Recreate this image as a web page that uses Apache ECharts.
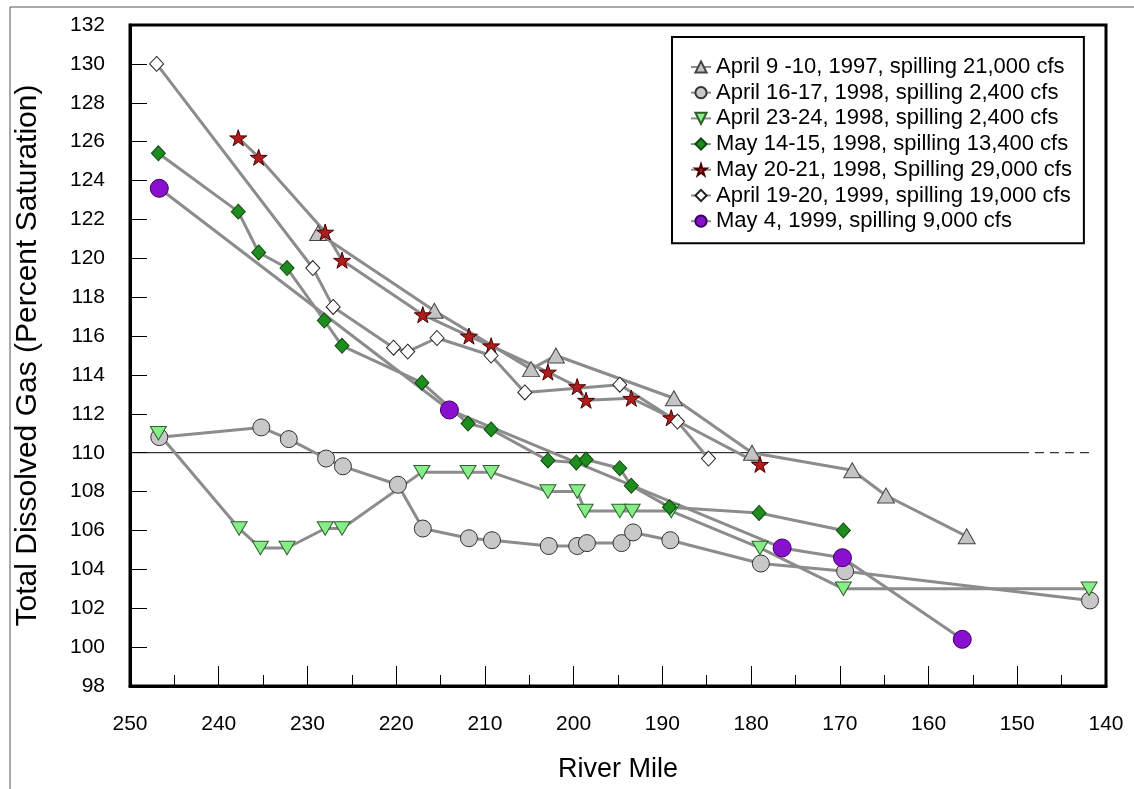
<!DOCTYPE html>
<html lang="en">
<head>
<meta charset="UTF-8">
<title>Total Dissolved Gas vs River Mile</title>
<script src="https://cdn.jsdelivr.net/npm/echarts@6/dist/echarts.min.js"></script>
<style>
  html, body { margin: 0; padding: 0; background: #fff; }
  #main { width: 1134px; height: 789px; }
</style>
</head>
<body>
<div id="main"></div>
<script>
// series names (legend)
var names = [
  'April 9 -10, 1997, spilling 21,000 cfs',
  'April 16-17, 1998, spilling 2,400 cfs',
  'April 23-24, 1998, spilling 2,400 cfs',
  'May 14-15, 1998, spilling 13,400 cfs',
  'May 20-21, 1998, Spilling 29,000 cfs',
  'April 19-20, 1999, spilling 19,000 cfs',
  'May 4, 1999, spilling 9,000 cfs'
];

// April 9-10, 1997
var apr97Mile = [228.8, 215.7, 204.8, 202.0, 188.7, 179.9, 168.6, 164.8, 155.7];
var apr97Gas  = [121.3, 117.3, 114.3, 115.0, 112.8, 110.0, 109.1, 107.8, 105.7];

// April 16-17, 1998
var apr16Mile = [246.7, 235.2, 232.1, 227.9, 226.0, 219.8, 217.0, 211.8, 209.2, 202.8, 199.6, 198.5, 194.6, 193.3, 189.1, 178.9, 169.4, 141.8];
var apr16Gas  = [110.8, 111.3, 110.7, 109.7, 109.3, 108.35, 106.1, 105.6, 105.5, 105.2, 105.2, 105.35, 105.35, 105.9, 105.5, 104.3, 103.9, 102.4];

// April 23-24, 1998
var apr23Mile = [246.8, 237.7, 235.3, 232.3, 228.0, 226.1, 217.1, 211.9, 209.3, 202.9, 199.6, 198.7, 194.8, 193.4, 189.0, 179.0, 169.6, 141.9];
var apr23Gas  = [111.0, 106.1, 105.1, 105.1, 106.1, 106.1, 109.0, 109.0, 109.0, 108.0, 108.0, 107.0, 107.0, 107.0, 107.0, 105.1, 103.0, 103.0];

// May 14-15, 1998
var may14Mile = [246.8, 237.8, 235.5, 232.3, 228.1, 226.1, 217.1, 211.9, 209.3, 202.9, 199.7, 198.6, 194.8, 193.5, 189.2, 179.1, 169.6];
var may14Gas  = [125.4, 122.4, 120.3, 119.5, 116.8, 115.5, 113.6, 111.5, 111.2, 109.6, 109.5, 109.65, 109.2, 108.3, 107.2, 106.9, 106.0];

// May 20-21, 1998
var may20Mile = [237.8, 235.5, 228.0, 226.1, 217.0, 211.8, 209.3, 202.9, 199.6, 198.6, 193.5, 189.0, 179.0];
var may20Gas  = [126.2, 125.2, 121.35, 119.9, 117.1, 116.0, 115.5, 114.15, 113.4, 112.7, 112.8, 111.8, 109.4];

// April 19-20, 1999
var apr99Mile = [247.0, 229.4, 227.1, 220.3, 218.7, 215.4, 209.3, 205.5, 194.8, 188.3, 184.8];
var apr99Gas  = [130.0, 119.5, 117.5, 115.4, 115.2, 115.9, 115.0, 113.1, 113.5, 111.6, 109.7];

// May 4, 1999
var may99Mile = [246.7, 214.0, 176.5, 169.7, 156.2];
var may99Gas  = [123.6, 112.2, 105.1, 104.6, 100.4];

// 110% standard line: solid part then dashed part
var stdSolid  = [[250, 110], [149.7, 110]];
var stdDashed = [[149.7, 110], [141.5, 110]];

function pairs(xs, ys) {
  var out = [];
  for (var i = 0; i < xs.length; i++) out.push([xs[i], ys[i]]);
  return out;
}

var star = 'path://M50,0 L61,35 L98,35 L68,57 L79,91 L50,70 L21,91 L32,57 L2,35 L39,35 Z';
var downTri = 'path://M0,0 L20,0 L10,18 Z';
var fontMain = "'Liberation Sans', Arial, sans-serif";
var fontTitle = "'Liberation Sans Narrow', 'Arial Narrow', 'Liberation Sans', Arial, sans-serif";

function dataSeries(name, xs, ys, symbol, size, fill, border) {
  return {
    name: name,
    type: 'line',
    data: pairs(xs, ys),
    symbol: symbol,
    symbolSize: size,
    symbolKeepAspect: true,
    showAllSymbol: true,
    lineStyle: { color: '#8c8c8c', width: 3 },
    itemStyle: { color: fill, borderColor: border, borderWidth: 1 },
    emphasis: { disabled: true },
    z: 3
  };
}

var myChart = echarts.init(document.getElementById('main'));
var option = {
  backgroundColor: '#fff',
  animation: false,
  textStyle: { fontFamily: fontMain },
  graphic: [
    { type: 'line', shape: { x1: 10, y1: 7, x2: 1134, y2: 7 }, style: { stroke: '#555', lineWidth: 1 } },
    { type: 'line', shape: { x1: 10, y1: 7, x2: 10, y2: 789 }, style: { stroke: '#555', lineWidth: 1 } }
  ],
  grid: {
    left: 130, right: 28, top: 25, bottom: 103,
    show: true, borderColor: '#000', borderWidth: 3, backgroundColor: '#fff'
  },
  legend: {
    data: names,
    orient: 'vertical',
    left: 672,
    top: 37,
    padding: [19, 12, 11, 18],
    itemGap: 3.7,
    itemWidth: 20,
    itemHeight: 14,
    borderColor: '#000',
    borderWidth: 2,
    backgroundColor: '#fff',
    textStyle: { fontSize: 22, color: '#000', fontFamily: fontMain }
  },
  xAxis: {
    type: 'value',
    inverse: true,
    min: 140,
    max: 250,
    interval: 10,
    name: 'River Mile',
    nameLocation: 'middle',
    nameGap: 70,
    nameTextStyle: { fontSize: 27, color: '#000', fontFamily: fontTitle },
    axisLine: { show: true, lineStyle: { color: '#000', width: 3 } },
    axisTick: { show: true, inside: true, length: 20, lineStyle: { color: '#000', width: 1 } },
    minorTick: { show: true, splitNumber: 2, length: 11, lineStyle: { color: '#000', width: 1 } },
    axisLabel: { fontSize: 21, color: '#000', margin: 28 },
    splitLine: { show: false }
  },
  yAxis: {
    type: 'value',
    min: 98,
    max: 132,
    interval: 2,
    name: 'Total Dissolved Gas (Percent Saturation)',
    nameLocation: 'middle',
    nameGap: 87,
    nameTextStyle: { fontSize: 30, color: '#000', fontFamily: fontTitle },
    axisLine: { show: true, lineStyle: { color: '#000', width: 3 } },
    axisTick: { show: true, inside: true, length: 17, lineStyle: { color: '#000', width: 1 } },
    axisLabel: { fontSize: 21, color: '#000', margin: 25 },
    splitLine: { show: false }
  },
  series: [
    {
      name: 'std-solid', type: 'line', data: stdSolid, symbol: 'none', silent: true,
      lineStyle: { color: '#000', width: 1 }, z: 2
    },
    {
      name: 'std-dashed', type: 'line', data: stdDashed, symbol: 'none', silent: true,
      lineStyle: { color: '#000', width: 1, type: [9, 6] }, z: 2
    },
    dataSeries(names[0], apr97Mile, apr97Gas, 'triangle', [17, 15], '#c4c4c4', '#444'),
    dataSeries(names[1], apr16Mile, apr16Gas, 'circle', 17, '#c8c8c8', '#333'),
    dataSeries(names[2], apr23Mile, apr23Gas, downTri, [16, 15], '#86ee86', '#2e5e2e'),
    dataSeries(names[3], may14Mile, may14Gas, 'diamond', [14, 15], '#1e8c1e', '#0c4a0c'),
    dataSeries(names[4], may20Mile, may20Gas, star, 17, '#b01c1c', '#4a0000'),
    dataSeries(names[5], apr99Mile, apr99Gas, 'diamond', [14, 15], '#ffffff', '#222'),
    dataSeries(names[6], may99Mile, may99Gas, 'circle', 18, '#8a10d0', '#3a0060')
  ]
};
myChart.setOption(option);
</script>
</body>
</html>
